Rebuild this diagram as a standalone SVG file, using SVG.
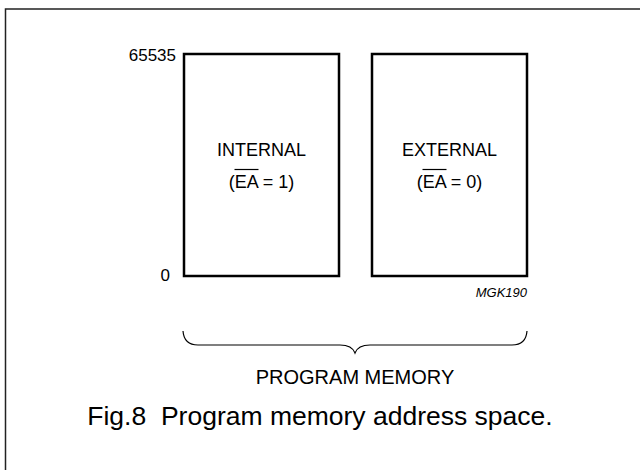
<svg xmlns="http://www.w3.org/2000/svg" width="640" height="470" viewBox="0 0 640 470">
<style>
text{font-family:"Liberation Sans",Arial,sans-serif;fill:#000}
.box{fill:#fff;stroke:#000;stroke-width:2.5}
.lbl{font-size:18px;text-anchor:middle}
.ax{font-size:17px;text-anchor:end}
.ov{stroke:#000;stroke-width:1.2}
</style>
<rect x="0" y="0" width="640" height="470" fill="#fff"/>
<rect id="frame" x="5.5" y="9" width="700" height="500" fill="none" stroke="#222" stroke-width="1.5"/>
<g id="internal">
<rect class="box" x="184" y="54" width="155" height="222"/>
<text class="lbl" x="261.5" y="156">INTERNAL</text>
<text class="lbl" x="261.5" y="188">(EA = 1)</text>
<line class="ov" x1="234.5" y1="169.5" x2="258.5" y2="169.5"/>
</g>
<g id="external">
<rect class="box" x="372" y="54" width="155" height="222"/>
<text class="lbl" x="449.5" y="156">EXTERNAL</text>
<text class="lbl" x="449.5" y="188">(EA = 0)</text>
<line class="ov" x1="422.5" y1="169.5" x2="446.5" y2="169.5"/>
</g>
<g id="axis">
<text class="ax" x="176" y="61">65535</text>
<text class="ax" x="170" y="281">0</text>
<text x="527" y="297" font-size="13" font-style="italic" text-anchor="end">MGK190</text>
</g>
<g id="connectors">
<path d="M183,331 Q184,345 198,345 L340,345 Q352,345 355,353 Q358,345 370,345 L512,345 Q526,345 527,331" fill="none" stroke="#000" stroke-width="1.2"/>
</g>
<text x="355" y="384" font-size="20" text-anchor="middle">PROGRAM MEMORY</text>
<text x="320" y="425" font-size="26.5" text-anchor="middle">Fig.8&#160; Program memory address space.</text>
</svg>
